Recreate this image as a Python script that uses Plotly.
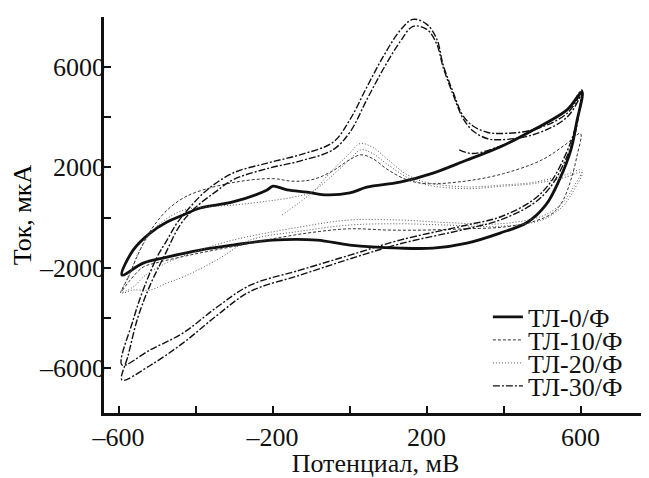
import plotly.graph_objects as go

# ---------------- data ----------------
# ТЛ-0/Ф  (solid)
tl0_x = [-591, -562, -518, -474, -432, -388, -303, -214, -199, -162, -110, -58, 1, 45, 131, 217, 305, 391, 477, 565, 604,
         590, 575, 545, 510, 461, 391, 305, 217, 131, 1, -84, -199, -303, -388, -474, -536, -591]
tl0_y = [-2290, -1300, -620, -180, 100, 380, 620, 1100, 1250, 1100, 1010, 900, 980, 1210, 1410, 1770, 2290, 2810, 3490, 4290, 5000,
         3800, 2700, 1500, 500, -200, -620, -1020, -1220, -1220, -1100, -900, -900, -1100, -1300, -1580, -1820, -2290]

# ТЛ-10/Ф (dashed)
tl10_x = [-595, -575, -550, -520, -480, -440, -400, -300, -200, -150, -100, -50, 0, 30, 60, 100, 150, 200, 300, 400, 500, 560, 600,
          590, 575, 555, 530, 480, 400, 300, 200, 100, 0, -100, -200, -300, -400, -500, -536, -570, -595]
tl10_y = [-3000, -2400, -1500, -600, 200, 700, 1000, 1400, 1550, 1450, 1500, 1800, 2300, 2500, 2350, 1900, 1500, 1350, 1450, 1750, 2300, 2900, 3350,
          2400, 1500, 700, 200, -150, -380, -450, -500, -500, -450, -600, -850, -1150, -1450, -1800, -1975, -2500, -3000]

# ТЛ-20/Ф (dotted) – first cycle
tl20a_x = [-175, -130, -90, -50, 0, 28, 60, 100, 150, 200, 305, 400, 477, 560, 604,
           585, 560, 539, 500, 391, 250, 131, 0, -129, -303, -388, -474, -530, -562, -591]
tl20a_y = [100, 600, 1100, 1800, 2550, 2950, 2800, 2300, 1700, 1400, 1220, 1300, 1400, 1700, 1900,
           1300, 700, 400, 50, -250, -200, -100, -100, -380, -900, -1300, -1800, -2300, -2770, -3000]
# ТЛ-20/Ф – second cycle
tl20b_x = [-591, -570, -545, -510, -470, -430, -388, -300, -214, -150, -100, -50, 0, 30, 60, 100, 150, 200, 305, 400, 477, 560, 604,
           585, 560, 539, 500, 391, 250, 131, 0, -129, -258, -344, -432, -474, -518, -562, -591]
tl20b_y = [-3000, -2200, -1300, -500, 0, 300, 400, 500, 650, 800, 1000, 1600, 2300, 2700, 2550, 2100, 1600, 1300, 1150, 1250, 1350, 1600, 1800,
           1150, 550, 250, -100, -350, -300, -250, -300, -550, -900, -1690, -2370, -2610, -2890, -2890, -3000]

# ТЛ-30/Ф (dash-dot) – first cycle
tl30a_x = [285, 320, 400, 477, 565, 604,
           585, 555, 521, 477, 391, 305, 131, 1, -129, -258, -344, -432, -518, -591,
           -562, -536, -500, -474, -448, -414, -370, -303, -214, -129, -43, 1, 45, 87, 131, 165, 201, 227, 243, 269, 295, 321, 357, 391, 477, 565, 604]
tl30a_y = [2700, 2550, 2900, 3500, 4300, 5080,
           3500, 2300, 1380, 700, 20, -300, -900, -1500, -2100, -2700, -3570, -4600, -5280, -5880,
           -4090, -2890, -1580, -900, -220, 420, 1100, 1770, 2170, 2500, 3000, 3900, 5200, 6400, 7450, 7900, 7700, 7100, 6100, 5000, 4050, 3650, 3400, 3350, 3500, 4150, 5080]
# ТЛ-30/Ф – second cycle
tl30b_x = [604, 585, 555, 521, 477, 391, 305, 131, 1, -129, -258, -344, -432, -518, -591,
           -575, -550, -518, -480, -440, -400, -350, -303, -214, -129, -43, 1, 45, 87, 131, 165, 201, 227, 243, 269, 295, 321, 357, 391, 477, 565, 604]
tl30b_y = [5080, 3300, 2100, 1200, 550, -100, -450, -1050, -1650, -2300, -2950, -3900, -5000, -5900, -6480,
           -5500, -4000, -2700, -1500, -300, 400, 1000, 1500, 1950, 2250, 2700, 3400, 4700, 5900, 7000, 7620, 7500, 6900, 6000, 4900, 3950, 3450, 3150, 3100, 3300, 4000, 5000]

series_names = ["ТЛ-0/Ф", "ТЛ-10/Ф", "ТЛ-20/Ф", "ТЛ-30/Ф"]

x_tickvals = [-600, -400, -200, 0, 200, 400, 600]
x_ticktext = ["–600", "", "–200", "", "200", "", "600"]
y_tickvals = [-6000, -4000, -2000, 0, 2000, 4000, 6000]
y_ticktext = ["–6000", "", "–2000", "", "2000", "", "6000"]

x_title = "Потенциал, мВ"
y_title = "Ток, мкА"


def join(*cycles):
    xs, ys = [], []
    for cx, cy in cycles:
        if xs:
            xs.append(None)
            ys.append(None)
        xs.extend(cx)
        ys.extend(cy)
    return xs, ys


FONT = "Liberation Serif, Times New Roman, serif"
FS = 26

fig = go.Figure()

styles = [
    dict(color="#111111", width=2.8, dash="solid"),
    dict(color="#333333", width=1.0, dash="3px,2px"),
    dict(color="#555555", width=1.0, dash="1px,2px"),
    dict(color="#111111", width=1.4, dash="7px,2px,2px,2px"),
]
data = [
    join((tl0_x, tl0_y)),
    join((tl10_x, tl10_y)),
    join((tl20a_x, tl20a_y), (tl20b_x, tl20b_y)),
    join((tl30a_x, tl30a_y), (tl30b_x, tl30b_y)),
]
legend_ids = ["legend", "legend2", "legend3", "legend4"]

for name, (xs, ys), st, lg in zip(series_names, data, styles, legend_ids):
    fig.add_trace(go.Scatter(x=xs, y=ys, mode="lines", name=name, line=st,
                             line_shape="spline", connectgaps=False, legend=lg))

# The page body has an 8px margin, so the figure sits at (8, 8) in the window.
# Plot area (figure coords): x 96..639, y 9..405
PLOT_H = 396
legend_y_px = [309, 332, 355, 378]
leg_common = dict(x=0.707, xanchor="left", yanchor="middle", bgcolor="rgba(0,0,0,0)",
                  font=dict(family=FONT, size=FS, color="#111111"), itemwidth=30,
                  tracegroupgap=0)
layout_legends = {}
for lg, py in zip(legend_ids, legend_y_px):
    layout_legends[lg] = dict(leg_common, y=(405 - py) / PLOT_H)

axis_common = dict(showgrid=False, zeroline=False, showline=True, linecolor="#111111", linewidth=2.5,
                   ticks="inside", ticklen=7, tickwidth=2, tickcolor="#111111",
                   tickfont=dict(family=FONT, size=FS, color="#111111"), mirror=False)

fig.update_layout(
    width=641, height=470,
    margin=dict(l=96, r=2, t=9, b=65, autoexpand=False),
    paper_bgcolor="white", plot_bgcolor="white",
    showlegend=True,
    xaxis=dict(axis_common, range=[-637.7, 772.7], tickvals=x_tickvals, ticktext=x_ticktext,
               ticklabelstandoff=-1,
               title=dict(text=x_title, font=dict(family=FONT, size=FS, color="#111111"), standoff=12)),
    yaxis=dict(axis_common, range=[-7794, 7994], tickvals=y_tickvals, ticktext=y_ticktext,
               ticklabelstandoff=-9,
               title=dict(text=y_title, font=dict(family=FONT, size=FS, color="#000000"), standoff=5)),
    **layout_legends,
)

fig.write_html("out.html")
